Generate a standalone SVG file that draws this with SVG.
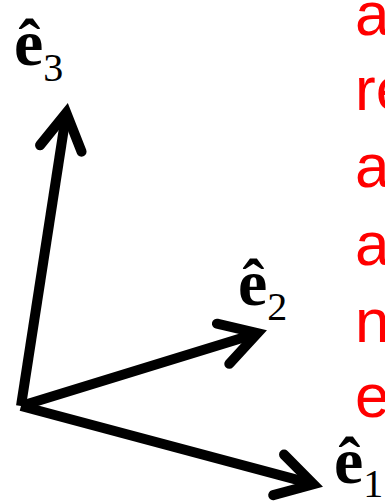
<svg xmlns="http://www.w3.org/2000/svg" width="385" height="504" viewBox="0 0 385 504">
  <style>
    .vec { fill: none; stroke: #000; stroke-width: 10; stroke-linecap: butt; }
    .lbl { font-family: "Liberation Serif", "Times New Roman", serif; font-weight: bold; font-size: 66px; fill: #000; }
    .sub { font-weight: normal; font-size: 40px; }
    .red { font-family: "Liberation Sans", Arial, sans-serif; font-size: 62px; fill: #FF0000; }
  </style>
  <defs>
    <marker id="ah" markerUnits="userSpaceOnUse" orient="auto" refX="0" refY="0" markerWidth="60" markerHeight="60" overflow="visible">
      <path d="M-36,-21 L0,0 L-36,21" fill="none" stroke="#000" stroke-width="10" stroke-linecap="round" stroke-linejoin="miter" stroke-miterlimit="10"/>
    </marker>
  </defs>
  <g id="connectors">
    <path class="vec" d="M21,406 L66.3,112.9" marker-end="url(#ah)"/>
    <path class="vec" d="M21,406 L257.5,333.2" marker-end="url(#ah)"/>
    <path class="vec" d="M21,406 L313.4,484.2" marker-end="url(#ah)"/>
  </g>
  <g id="e3">
    <text class="lbl" x="14" y="65">ê<tspan class="sub" dy="16">3</tspan></text>
  </g>
  <g id="e2">
    <text class="lbl" x="238" y="305">ê<tspan class="sub" dy="15">2</tspan></text>
  </g>
  <g id="e1">
    <text class="lbl" x="334" y="483">ê<tspan class="sub" dy="14">1</tspan></text>
  </g>
  <g id="red-text">
    <text class="red" x="355" y="35">a</text>
    <text class="red" x="355" y="110">re</text>
    <text class="red" x="355" y="187">a</text>
    <text class="red" x="355" y="265">a</text>
    <text class="red" x="355" y="342">n</text>
    <text class="red" x="355" y="417">e</text>
  </g>
</svg>
